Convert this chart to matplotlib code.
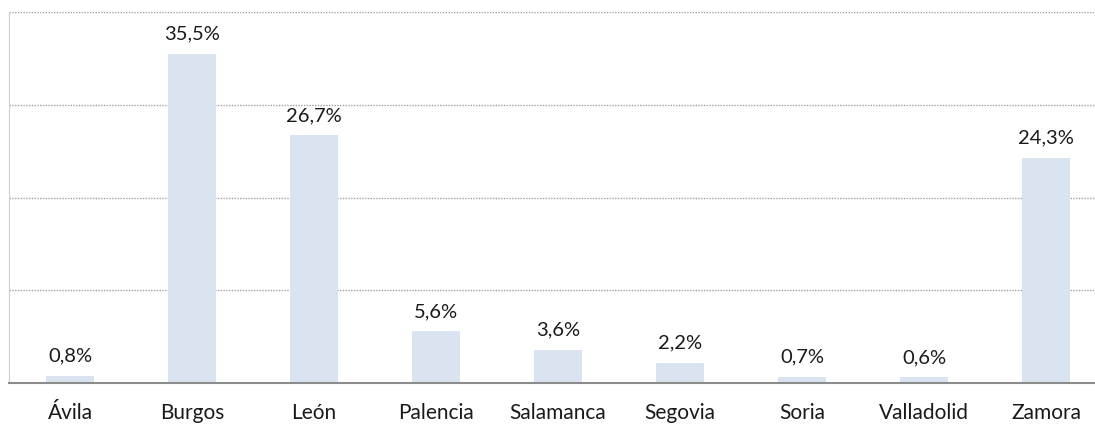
import matplotlib
matplotlib.use("Agg")
import matplotlib.pyplot as plt

provincias = ["Ávila", "Burgos", "León", "Palencia", "Salamanca",
              "Segovia", "Soria", "Valladolid", "Zamora"]
porcentajes = [0.8, 35.5, 26.7, 5.6, 3.6, 2.2, 0.7, 0.6, 24.3]

plt.rcParams['font.family'] = ['Lato', 'DejaVu Sans']

fig = plt.figure(figsize=(10.95, 4.25), dpi=100)
# plot area runs slightly past the right edge, like the original
ax = fig.add_axes([9 / 1095, 42 / 425, 1098 / 1095, 371 / 425])

x = range(len(provincias))
ax.bar(x, porcentajes, width=0.4, color="#dae3f0", zorder=2)

for xi, v in zip(x, porcentajes):
    ax.annotate(f"{v:.1f}%".replace(".", ","), (xi, v),
                xytext=(0, 8), textcoords="offset points",
                ha="center", va="bottom", fontsize=14.5, color="#1a1a1a")

ax.set_xlim(-0.5, len(provincias) - 0.5)
ax.set_ylim(0, 40)
ax.set_yticks([10, 20, 30, 40])
ax.yaxis.grid(True, linestyle=(0, (1, 1)), color="#a0a0a0", linewidth=1)
ax.set_axisbelow(True)
ax.tick_params(axis="y", left=False, labelleft=False)
ax.tick_params(axis="x", bottom=False, labelsize=15, pad=11, colors="#1a1a1a")
ax.set_xticks(list(x))
ax.set_xticklabels(provincias)

for s in ["top", "right"]:
    ax.spines[s].set_visible(False)
ax.spines["left"].set_color("#d0d0d0")
ax.spines["bottom"].set_color("#8c8c8c")
ax.spines["bottom"].set_linewidth(1.5)

fig.savefig("out.png", dpi=100)
